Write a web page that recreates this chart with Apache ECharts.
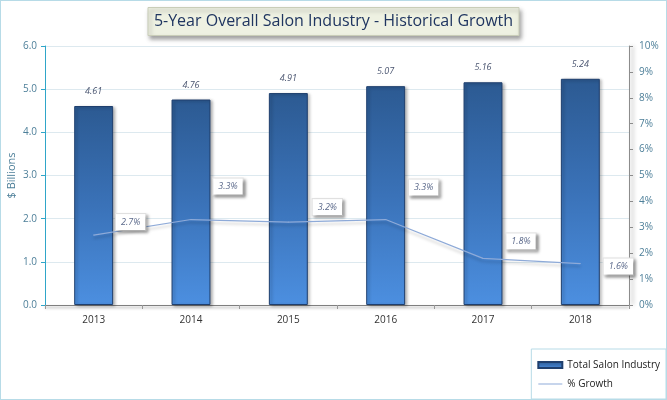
<!DOCTYPE html>
<html>
<head>
<meta charset="utf-8">
<script src="https://cdn.jsdelivr.net/npm/echarts@6/dist/echarts.min.js"></script>
<style>
  html, body { margin: 0; padding: 0; background: #fff; }
  #chart { width: 665px; height: 398px; border: 1px solid #b7dbe7; }
</style>
</head>
<body>
<div id="chart"></div>
<script>
// data
const years = ['2013', '2014', '2015', '2016', '2017', '2018'];
const salonBillions = [4.61, 4.76, 4.91, 5.07, 5.16, 5.24];
const growthPct = [2.7, 3.3, 3.2, 3.3, 1.8, 1.6];
// where each growth label sits relative to its point (px)
const growthLabelOffsets = [[37, -13], [37, -33], [39, -15], [38, -32], [38, -17], [38, 3]];

const axisText = '#4d7f99';
const gridLine = '#dde9ef';

const chart = echarts.init(document.getElementById('chart'));

chart.setOption({
  backgroundColor: '#fff',
  textStyle: { fontFamily: 'Open Sans, sans-serif' },
  title: {
    text: '5-Year Overall Salon Industry - Historical Growth',
    left: 'center',
    top: 6,
    padding: [6, 6, 7, 6],
    backgroundColor: '#eef1e2',
    borderColor: '#c9cdb8',
    borderWidth: 1,
    shadowColor: 'rgba(0,0,0,0.35)',
    shadowBlur: 4,
    shadowOffsetX: 2,
    shadowOffsetY: 3,
    textStyle: {
      fontFamily: 'Open Sans, sans-serif',
      fontWeight: 'normal',
      fontSize: 16,
      color: '#1f3560'
    }
  },
  legend: {
    orient: 'vertical',
    right: 0,
    bottom: 0,
    padding: [11, 6, 10, 6],
    itemGap: 9,
    itemWidth: 24,
    itemHeight: 6,
    backgroundColor: '#fff',
    borderColor: '#b7dbe7',
    borderWidth: 1,
    textStyle: { fontSize: 10, color: '#222' },
    data: [
      { name: 'Total Salon Industry', icon: 'rect' },
      { name: '% Growth', icon: 'path://M0,0H24V1H0Z', itemStyle: { color: '#8eaad8', opacity: 1 } }
    ]
  },
  grid: { left: 44, right: 37, top: 45, bottom: 94, outerBoundsMode: 'none' },
  xAxis: {
    type: 'category',
    data: years,
    axisLine: { lineStyle: { color: '#7f7f7f', width: 1, shadowColor: 'rgba(0,0,0,0.4)', shadowBlur: 3, shadowOffsetY: 2 } },
    axisTick: { show: true, length: 4, lineStyle: { color: '#999' } },
    axisLabel: { color: '#333', fontSize: 10, margin: 10 }
  },
  yAxis: [
    {
      type: 'value',
      min: 0, max: 6, interval: 1,
      name: '$ Billions',
      nameLocation: 'middle',
      nameGap: 28,
      nameMoveOverlap: false,
      nameTextStyle: { color: axisText, fontSize: 11 },
      axisLine: { show: true, lineStyle: { color: '#2fa6c9' } },
      axisTick: { show: true, length: 4, lineStyle: { color: '#2fa6c9' } },
      axisLabel: { color: axisText, fontSize: 10, formatter: v => v.toFixed(1) },
      splitLine: { lineStyle: { color: gridLine } }
    },
    {
      type: 'value',
      min: 0, max: 10, interval: 1,
      position: 'right',
      axisLine: { show: true, lineStyle: { color: '#8c8c8c', shadowColor: 'rgba(0,0,0,0.45)', shadowBlur: 4, shadowOffsetX: 3 } },
      axisTick: { show: true, length: 4, inside: false, lineStyle: { color: '#8c8c8c' } },
      axisLabel: { color: axisText, fontSize: 10, margin: 10, formatter: '{value}%' },
      splitLine: { show: false }
    }
  ],
  series: [
    {
      name: 'Total Salon Industry',
      type: 'bar',
      data: salonBillions,
      barWidth: '40%',
      itemStyle: {
        color: new echarts.graphic.LinearGradient(0, 0, 0, 1, [
          { offset: 0, color: '#2c5a92' },
          { offset: 0.5, color: '#3a72b8' },
          { offset: 1, color: '#4c8fe0' }
        ]),
        borderColor: '#1f3f6e',
        borderWidth: 1,
        shadowColor: 'rgba(0,0,0,0.3)',
        shadowBlur: 3,
        shadowOffsetX: 2,
        shadowOffsetY: 1
      },
      label: {
        show: true,
        position: 'top',
        distance: 10,
        fontSize: 9,
        fontStyle: 'italic',
        color: '#4a5570',
        formatter: p => p.value.toFixed(2)
      },
      z: 2
    },
    {
      name: '% Growth',
      type: 'line',
      yAxisIndex: 1,
      data: growthPct.map((v, i) => ({
        value: v,
        label: { offset: growthLabelOffsets[i] }
      })),
      symbol: 'circle',
      symbolSize: 1,
      showSymbol: true,
      lineStyle: {
        color: '#8eaad8',
        width: 1.2,
        shadowColor: 'rgba(0,0,0,0.22)',
        shadowBlur: 3,
        shadowOffsetY: 3
      },
      itemStyle: { color: '#8eaad8' },
      label: {
        show: true,
        position: 'inside',
        fontSize: 9,
        fontStyle: 'italic',
        color: '#5d6b8c',
        backgroundColor: '#fff',
        borderColor: '#e2e2e2',
        borderWidth: 1,
        padding: [4, 5, 3, 5],
        shadowColor: 'rgba(0,0,0,0.35)',
        shadowBlur: 3,
        shadowOffsetX: 2,
        shadowOffsetY: 2,
        formatter: p => p.value.toFixed(1) + '%'
      },
      z: 3
    }
  ]
});
</script>
</body>
</html>
